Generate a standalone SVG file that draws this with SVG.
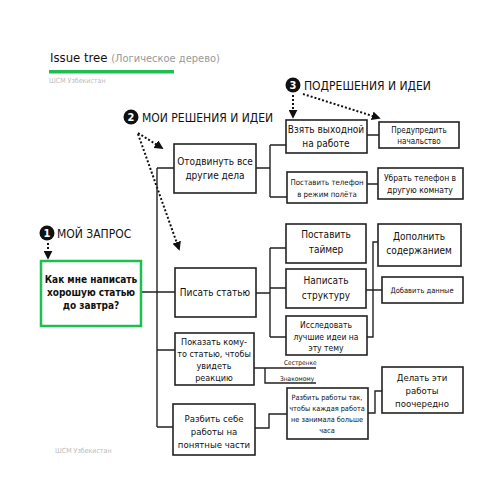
<svg xmlns="http://www.w3.org/2000/svg" width="503" height="500" viewBox="0 0 503 500">
<style>
text{font-family:"Liberation Sans Narrow","DejaVu Sans Condensed","Liberation Sans",sans-serif;fill:#111}
.box{fill:#fff;stroke:#222;stroke-width:1.6}
.root{fill:#fff;stroke:#1fbf4f;stroke-width:2.5}
.ln{fill:none;stroke:#222;stroke-width:1.4}
.dot{fill:none;stroke:#111;stroke-width:2;stroke-dasharray:2 2}
.c{text-anchor:middle}
.badge{fill:#111}
.bn{fill:#fff;font-weight:bold;font-size:11px;text-anchor:middle}
.hd{font-size:12px}
.gray{fill:#bbb;font-size:7px}
</style>
<defs>
<marker id="ah" viewBox="0 0 10 10" refX="8" refY="5" markerWidth="4.5" markerHeight="4.5" orient="auto"><path d="M0,0 L10,5 L0,10 Z" fill="#111"/></marker>
</defs>
<rect width="503" height="500" fill="#fff"/>
<g id="header">
<text x="50" y="62" font-size="13">Issue tree <tspan fill="#999" font-size="11">(Логическое дерево)</tspan></text>
<rect x="49" y="70" width="125" height="3.5" fill="#1fbf4f"/>
<text x="49" y="83" class="gray">ШСМ Узбекистан</text>
</g>
<g id="footer"><text x="55" y="453" class="gray">ШСМ Узбекистан</text></g>
<g id="labels">
<circle cx="47" cy="233" r="7.5" class="badge"/><text x="47" y="237" class="bn">1</text>
<text x="57" y="238" class="hd" font-size="11">МОЙ ЗАПРОС</text>
<circle cx="131" cy="117" r="7.5" class="badge"/><text x="131" y="121" class="bn">2</text>
<text x="142" y="122" class="hd">МОИ РЕШЕНИЯ И ИДЕИ</text>
<circle cx="293" cy="85" r="7.5" class="badge"/><text x="293" y="89" class="bn">3</text>
<text x="304" y="90" class="hd">ПОДРЕШЕНИЯ И ИДЕИ</text>
</g>
<g id="connectors">
<path class="dot" d="M48,243 V258" marker-end="url(#ah)"/>
<path class="dot" d="M138,133 L162,148" marker-end="url(#ah)"/>
<path class="dot" d="M138,134 L179,249" marker-end="url(#ah)"/>
<path class="dot" d="M293,95 V117" marker-end="url(#ah)"/>
<path class="dot" d="M303,94 L379,118" marker-end="url(#ah)"/>
<path class="ln" d="M141,292 H175 M157,168 V427 M157,168 H174 M157,350 H175 M157,427 H173"/>
<path class="ln" d="M256,168 H270 M270,145 V197 M270,145 H287 M270,197 H287"/>
<path class="ln" d="M367,135 H379 M367,184 H378"/>
<path class="ln" d="M256,293 H270 M270,248 V337 M270,248 H286 M270,288 H286 M270,337 H286"/>
<path class="ln" d="M367,337 H373 V242 H378 M366,290 H382"/>
<path class="ln" d="M254,368 H316 M265,368 V383 H316"/>
<path class="ln" d="M255,428 H269 V414 H287 M368,413 H375 V391 H382"/>
<text x="284" y="365" font-size="6.5">Сестренке</text>
<text x="280" y="381" font-size="6.5">Знакомому</text>
</g>
<g id="root">
<rect class="root" x="41" y="261" width="100" height="65"/>
<text class="c" x="91" y="283" font-size="10" font-weight="bold">Как мне написать</text>
<text class="c" x="91" y="296" font-size="10" font-weight="bold">хорошую статью</text>
<text class="c" x="91" y="309" font-size="10" font-weight="bold">до завтра?</text>
</g>
<g id="n-otodv">
<rect class="box" x="174" y="144" width="82" height="49"/>
<text class="c" x="215" y="165" font-size="10">Отодвинуть все</text>
<text class="c" x="215" y="179" font-size="10">другие дела</text>
</g>
<g id="n-pisat">
<rect class="box" x="175" y="268" width="81" height="49"/>
<text class="c" x="215" y="296" font-size="10">Писать статью</text>
</g>
<g id="n-pokazat">
<rect class="box" x="175" y="333" width="79" height="52"/>
<text class="c" x="214" y="345" font-size="9">Показать кому-</text>
<text class="c" x="214" y="357" font-size="9">то статью, чтобы</text>
<text class="c" x="214" y="369" font-size="9">увидеть</text>
<text class="c" x="214" y="381" font-size="9">реакцию</text>
</g>
<g id="n-razbit">
<rect class="box" x="173" y="404" width="82" height="51"/>
<text class="c" x="214" y="422" font-size="9.5">Разбить себе</text>
<text class="c" x="214" y="435" font-size="9.5">работы на</text>
<text class="c" x="214" y="448" font-size="9.5">понятные части</text>
</g>
<g id="n-vzyat">
<rect class="box" x="286" y="120" width="81" height="33"/>
<text class="c" x="326" y="133" font-size="10">Взять выходной</text>
<text class="c" x="326" y="147" font-size="10">на работе</text>
</g>
<g id="n-predupr">
<rect class="box" x="379" y="122" width="80" height="26"/>
<text class="c" x="419" y="133" font-size="8">Предупредить</text>
<text class="c" x="419" y="144" font-size="8">начальство</text>
</g>
<g id="n-postavit-tel">
<rect class="box" x="287" y="172" width="80" height="31"/>
<text class="c" x="327" y="185" font-size="7.8">Поставить телефон</text>
<text class="c" x="327" y="197" font-size="7.8">в режим полёта</text>
</g>
<g id="n-ubrat">
<rect class="box" x="378" y="168" width="85" height="31"/>
<text class="c" x="420" y="181" font-size="8.5">Убрать телефон в</text>
<text class="c" x="420" y="193" font-size="8.5">другую комнату</text>
</g>
<g id="n-taimer">
<rect class="box" x="286" y="224" width="80" height="39"/>
<text class="c" x="326" y="238" font-size="10">Поставить</text>
<text class="c" x="326" y="253" font-size="10">таймер</text>
</g>
<g id="n-struktura">
<rect class="box" x="286" y="269" width="80" height="39"/>
<text class="c" x="326" y="284" font-size="10">Написать</text>
<text class="c" x="326" y="299" font-size="10">структуру</text>
</g>
<g id="n-issled">
<rect class="box" x="286" y="316" width="81" height="39"/>
<text class="c" x="326" y="328" font-size="8.5">Исследовать</text>
<text class="c" x="326" y="340" font-size="8.5">лучшие идеи на</text>
<text class="c" x="326" y="351" font-size="8.5">эту тему</text>
</g>
<g id="n-dopolnit">
<rect class="box" x="378" y="224" width="83" height="42"/>
<text class="c" x="419" y="240" font-size="10">Дополнить</text>
<text class="c" x="419" y="254" font-size="10">содержанием</text>
</g>
<g id="n-dobavit">
<rect class="box" x="382" y="277" width="81" height="26"/>
<text class="c" x="422" y="293" font-size="7.5">Добавить данные</text>
</g>
<g id="n-razbit-raboty">
<rect class="box" x="287" y="388" width="81" height="51"/>
<text class="c" x="327" y="400" font-size="7.3">Разбить работы так,</text>
<text class="c" x="327" y="411" font-size="7.3">чтобы каждая работа</text>
<text class="c" x="327" y="422" font-size="7.3">не занимала больше</text>
<text class="c" x="327" y="433" font-size="7.3">часа</text>
</g>
<g id="n-delat">
<rect class="box" x="382" y="367" width="81" height="46"/>
<text class="c" x="422" y="381" font-size="9.5">Делать эти</text>
<text class="c" x="422" y="394" font-size="9.5">работы</text>
<text class="c" x="422" y="407" font-size="9.5">поочередно</text>
</g>
</svg>
